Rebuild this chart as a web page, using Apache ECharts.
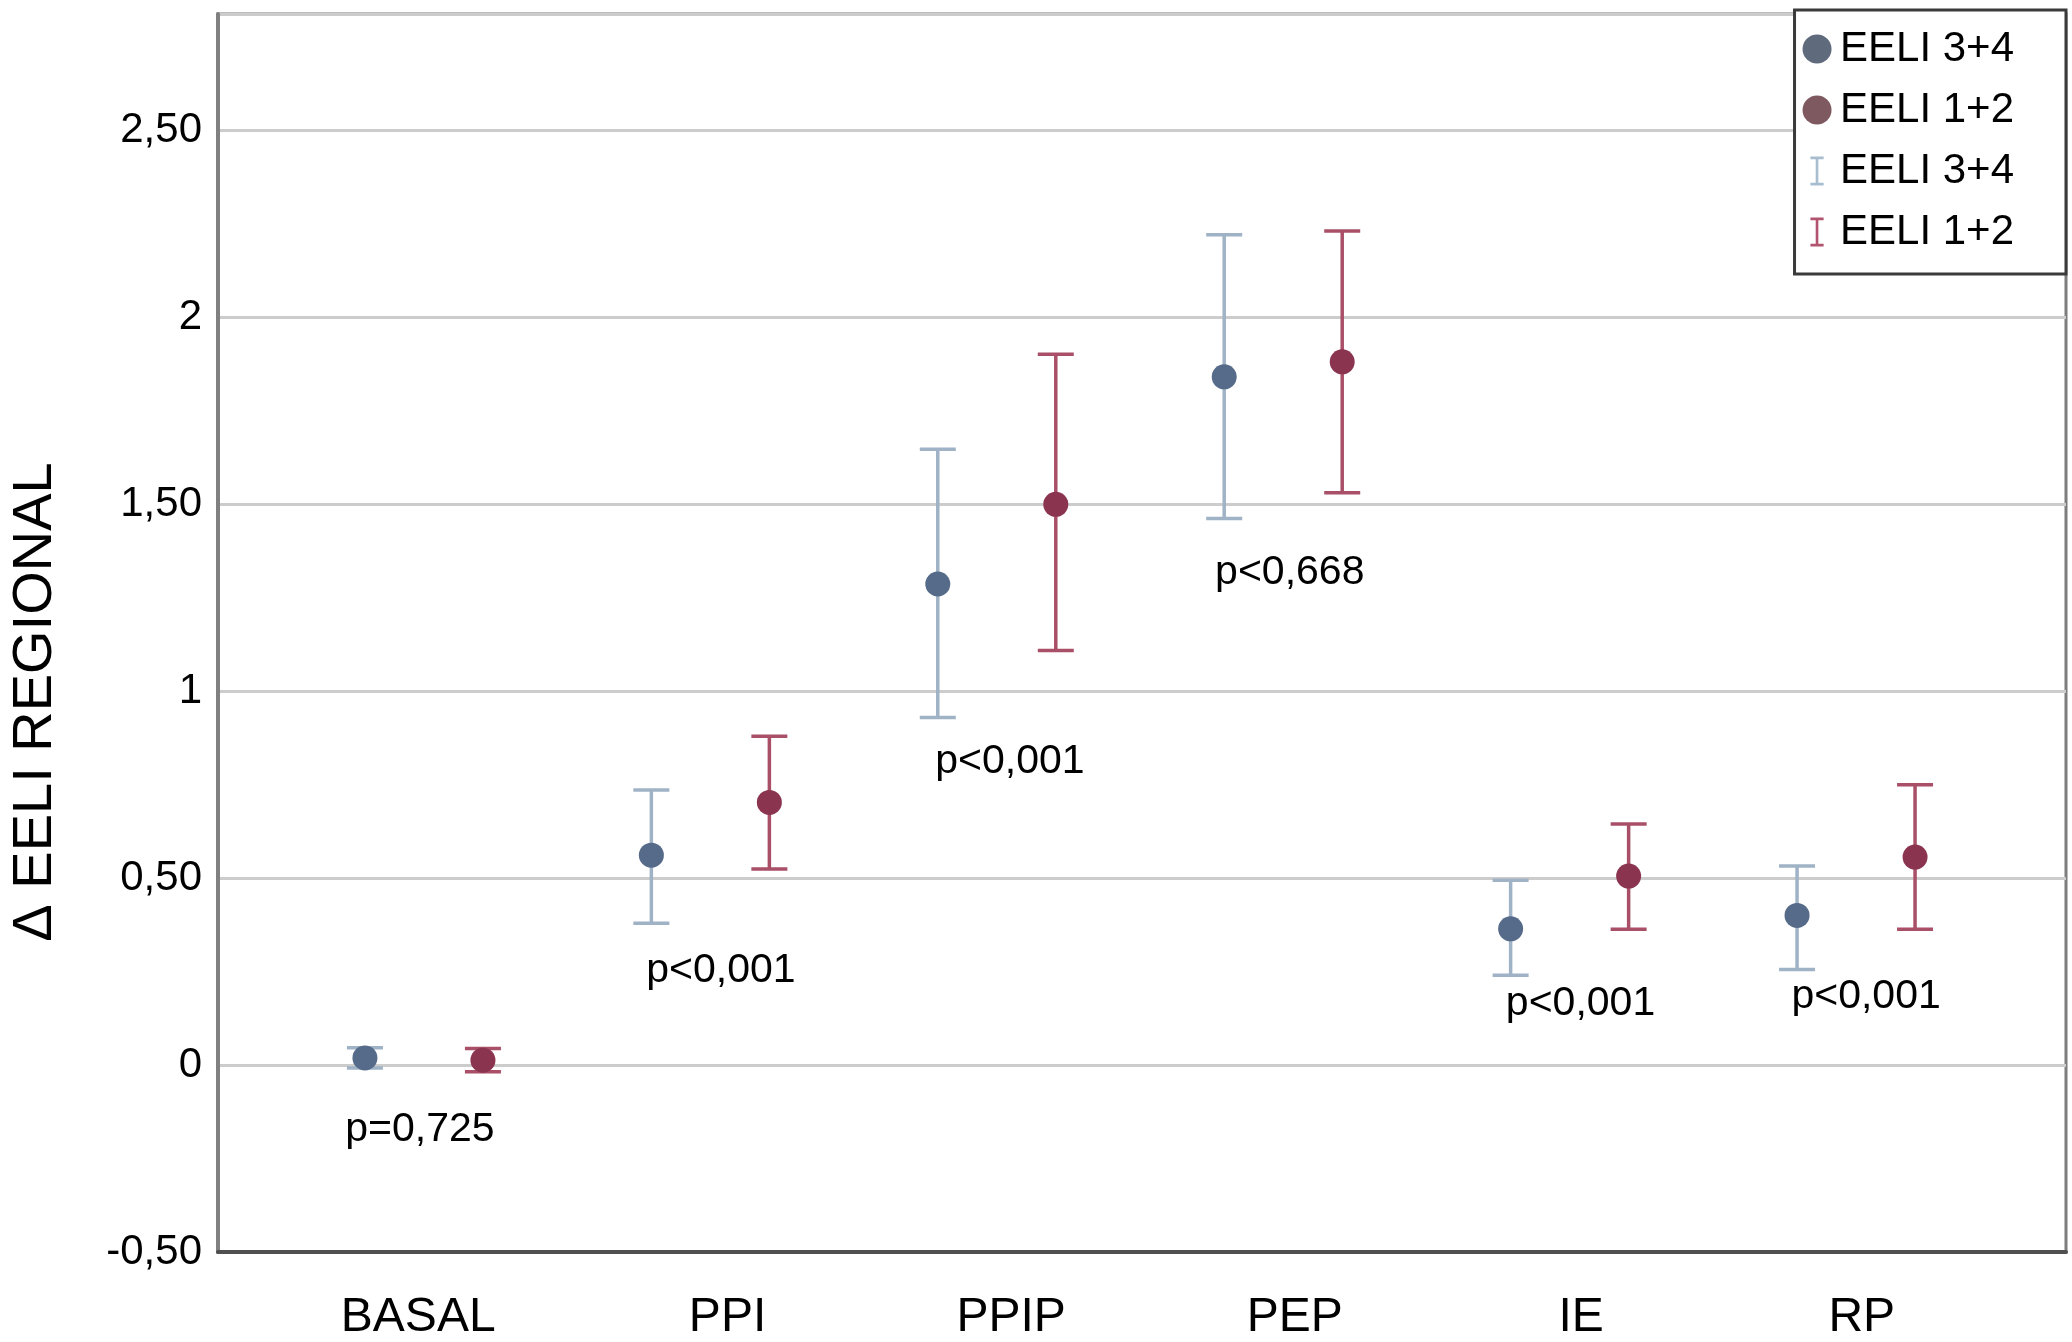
<!DOCTYPE html>
<html>
<head>
<meta charset="utf-8">
<style>
  html, body { margin: 0; padding: 0; background: #fff; }
  #chart { width: 2072px; height: 1342px; }
</style>
<script src="https://cdn.jsdelivr.net/npm/echarts@6/dist/echarts.min.js"></script>
</head>
<body>
<div id="chart"></div>
<script>
const categories = ['BASAL', 'PPI', 'PPIP', 'PEP', 'IE', 'RP'];
// category label positions on the x scale (group centres are 0..5)
const categoryLabelPos = [-0.02, 1.06, 2.05, 3.04, 4.04, 5.02];
// EELI 3+4
const mean34 = [0.019, 0.561, 1.286, 1.84, 0.364, 0.40];
const low34  = [-0.008, 0.379, 0.929, 1.461, 0.24, 0.255];
const high34 = [0.046, 0.735, 1.646, 2.22, 0.494, 0.532];
// EELI 1+2
const mean12 = [0.013, 0.702, 1.499, 1.88, 0.505, 0.556];
const low12  = [-0.018, 0.524, 1.108, 1.53, 0.363, 0.363];
const high12 = [0.044, 0.879, 1.90, 2.23, 0.644, 0.749];
// p-value annotations
const pTexts = ['p=0,725', 'p<0,001', 'p<0,001', 'p<0,668', 'p<0,001', 'p<0,001'];
const pX = [-0.014, 1.037, 2.046, 3.023, 4.038, 5.035];
const pY = [-0.173, 0.251, 0.812, 1.317, 0.163, 0.182];
const yTickLabels = { '-0.5': '-0,50', '0': '0', '0.5': '0,50', '1': '1', '1.5': '1,50', '2': '2', '2.5': '2,50' };

const OFFSET = 0.206;
const FONT = 'Liberation Sans, Arial, sans-serif';

const chart = echarts.init(document.getElementById('chart'));

function pts(means, off) {
  return means.map((v, i) => [i + off, v]);
}
function errs(lows, highs, off) {
  return lows.map((v, i) => [i + off, v, highs[i]]);
}
function errRender(color) {
  return function (params, api) {
    const x = api.value(0);
    const lo = api.coord([x, api.value(1)]);
    const hi = api.coord([x, api.value(2)]);
    const hw = 18;
    const style = { stroke: color, lineWidth: 3.5 };
    return {
      type: 'group',
      children: [
        { type: 'line', shape: { x1: lo[0], y1: lo[1], x2: hi[0], y2: hi[1] }, style },
        { type: 'line', shape: { x1: lo[0] - hw, y1: lo[1], x2: lo[0] + hw, y2: lo[1] }, style },
        { type: 'line', shape: { x1: hi[0] - hw, y1: hi[1], x2: hi[0] + hw, y2: hi[1] }, style }
      ]
    };
  };
}

const barIcon = 'path://M0,0h10v2h-4v18h4v2h-10v-2h4v-18h-4z';

const option = {
  backgroundColor: '#ffffff',
  animation: false,
  textStyle: { fontFamily: FONT },
  grid: { left: 218, right: 6, top: 14, bottom: 88, show: true, borderColor: '#7d7d7d', borderWidth: 3, backgroundColor: '#ffffff' },
  legend: {
    orient: 'vertical',
    right: 6,
    top: 10,
    backgroundColor: '#ffffff',
    borderColor: '#3a3a3a',
    borderWidth: 3,
    padding: [16, 52, 19, 8],
    itemWidth: 36,
    itemHeight: 29,
    itemGap: 15,
    textStyle: { fontSize: 42, color: '#000', fontFamily: FONT, lineHeight: 46 },
    formatter: n => n.trim(),
    data: [
      { name: 'EELI 3+4', icon: 'circle', itemStyle: { color: '#5f6a7c' } },
      { name: 'EELI 1+2', icon: 'circle', itemStyle: { color: '#7e5960' } },
      { name: 'EELI 3+4 ', icon: barIcon },
      { name: 'EELI 1+2 ', icon: barIcon }
    ]
  },
  xAxis: {
    type: 'value',
    min: -0.719,
    max: 5.733,
    splitLine: { show: false },
    axisTick: { show: false },
    axisLine: { show: true, onZero: false, lineStyle: { color: '#505050', width: 4 } },
    axisLabel: {
      customValues: categoryLabelPos,
      formatter: v => categories[Math.round(v)],
      fontSize: 48,
      color: '#000',
      margin: 42,
      fontFamily: FONT
    }
  },
  yAxis: {
    type: 'value',
    min: -0.5,
    max: 2.81,
    interval: 0.5,
    axisLine: { show: true, onZero: false, lineStyle: { color: '#808080', width: 4 } },
    axisTick: { show: false },
    splitLine: { show: true, lineStyle: { color: '#cccccc', width: 3 } },
    axisLabel: {
      fontSize: 42,
      color: '#000',
      margin: 16,
      fontFamily: FONT,
      formatter: v => {
        const k = String(Math.round(v * 100) / 100);
        return yTickLabels[k] !== undefined ? yTickLabels[k] : '';
      }
    }
  },
  graphic: [{
    type: 'text',
    x: 36,
    y: 702,
    rotation: Math.PI / 2,
    style: {
      text: 'Δ EELI REGIONAL',
      fontSize: 56,
      fontFamily: FONT,
      fill: '#000',
      align: 'center',
      verticalAlign: 'middle'
    }
  }],
  series: [
    {
      name: 'EELI 3+4 ',
      type: 'custom',
      renderItem: errRender('#9fb2c6'),
      itemStyle: { color: '#a9bdd0' },
      data: errs(low34, high34, -OFFSET),
      z: 2,
      encode: { x: 0, y: [1, 2] }
    },
    {
      name: 'EELI 1+2 ',
      type: 'custom',
      renderItem: errRender('#a94f68'),
      itemStyle: { color: '#b2546f' },
      data: errs(low12, high12, OFFSET),
      z: 2,
      encode: { x: 0, y: [1, 2] }
    },
    {
      name: 'EELI 3+4',
      type: 'scatter',
      symbol: 'circle',
      symbolSize: 25,
      itemStyle: { color: '#566a89', opacity: 1 },
      data: pts(mean34, -OFFSET),
      z: 3
    },
    {
      name: 'EELI 1+2',
      type: 'scatter',
      symbol: 'circle',
      symbolSize: 25,
      itemStyle: { color: '#8a3450', opacity: 1 },
      data: pts(mean12, OFFSET),
      z: 3
    },
    {
      name: 'p',
      type: 'scatter',
      symbolSize: 0,
      silent: true,
      itemStyle: { opacity: 1 },
      data: pX.map((x, i) => ({ value: [x, pY[i]], label: { formatter: pTexts[i] } })),
      label: { show: true, position: 'inside', fontSize: 41, color: '#000', fontFamily: FONT },
      z: 4
    }
  ]
};
chart.setOption(option);
</script>
</body>
</html>
